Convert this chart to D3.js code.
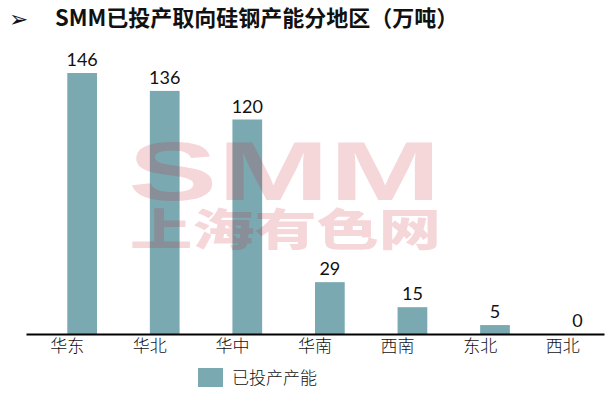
<!DOCTYPE html>
<html>
<head>
<meta charset="utf-8">
<script src="https://cdn.jsdelivr.net/npm/d3@7"></script>
<style>
  body { margin: 0; background: #fff; }
  svg { display: block; font-family: "Noto Sans CJK SC", "Noto Sans", sans-serif; }
</style>
</head>
<body>
<svg id="chart" width="609" height="394"></svg>
<script>
const regions = ['华东', '华北', '华中', '华南', '西南', '东北', '西北'];
const capacity = [146, 136, 120, 29, 15, 5, 0];
const seriesName = '已投产产能';
const titleText = 'SMM已投产取向硅钢产能分地区（万吨）';

const svg = d3.select('#chart');
const W = 609, H = 394;
const margin = { top: 48, bottom: 60, left: 26, right: 5 };
const innerW = W - margin.left - margin.right;
const innerH = H - margin.top - margin.bottom;
const barColor = '#7ba9b1';

// title
svg.append('text')
  .attr('x', 9).attr('y', 27)
  .attr('font-family', 'DejaVu Sans')
  .attr('font-size', 23)
  .attr('fill', '#111')
  .text('➢');
svg.append('text')
  .attr('x', 55).attr('y', 26)
  .attr('font-size', 22)
  .attr('font-weight', 'bold')
  .attr('fill', '#111')
  .text(titleText);

const x = d3.scaleBand().domain(regions).range([0, innerW]);
const y = d3.scaleLinear().domain([0, 160]).range([innerH, 0]);

const g = svg.append('g')
  .attr('transform', `translate(${margin.left},${margin.top})`);

const data = regions.map((r, i) => ({ region: r, value: capacity[i] }));
const barW = x.bandwidth() * 0.36;
// bars sit to the right of the category centre (Excel clustered layout)
const barX = d => x(d.region) + x.bandwidth() / 2;

g.selectAll('rect.bar')
  .data(data)
  .join('rect')
  .attr('class', 'bar')
  .attr('x', barX)
  .attr('y', d => y(d.value))
  .attr('width', barW)
  .attr('height', d => innerH - y(d.value))
  .attr('fill', barColor);

g.selectAll('text.val')
  .data(data)
  .join('text')
  .attr('class', 'val')
  .attr('x', d => barX(d) + barW / 2)
  .attr('y', d => y(d.value) - 7)
  .attr('text-anchor', 'middle')
  .attr('font-family', 'Lato, sans-serif')
  .attr('font-size', 18)
  .attr('fill', '#111')
  .text(d => d.value);

// axis
const xAxis = d3.axisBottom(x).tickSize(0).tickPadding(6);
const ax = g.append('g')
  .attr('transform', `translate(0,${innerH})`)
  .call(xAxis);
ax.select('.domain').attr('stroke', '#000').attr('stroke-width', 2);
ax.selectAll('text')
  .attr('font-size', 17)
  .attr('font-family', '"Noto Sans CJK SC", sans-serif')
  .attr('font-weight', 300)
  .attr('fill', '#111');

// watermark drawn over the bars
const wm = svg.append('g').attr('fill', 'rgb(200,27,43)').attr('fill-opacity', 0.18);
wm.append('text')
  .attr('x', 128).attr('y', 200)
  .attr('font-size', 84)
  .attr('font-weight', 900)
  .attr('font-family', '"Liberation Sans", Arial, sans-serif')
  .attr('textLength', 313)
  .attr('lengthAdjust', 'spacingAndGlyphs')
  .text('SMM');
wm.append('text')
  .attr('x', 130).attr('y', 246)
  .attr('font-size', 44)
  .attr('font-weight', 900)
  .attr('textLength', 311)
  .attr('lengthAdjust', 'spacingAndGlyphs')
  .text('上海有色网');

// legend
const lg = svg.append('g').attr('transform', 'translate(198,368)');
lg.append('rect').attr('width', 25).attr('height', 19).attr('fill', barColor);
lg.append('text')
  .attr('x', 34).attr('y', 16)
  .attr('font-size', 17)
  .attr('font-weight', 300)
  .attr('fill', '#111')
  .text(seriesName);
</script>
</body>
</html>
